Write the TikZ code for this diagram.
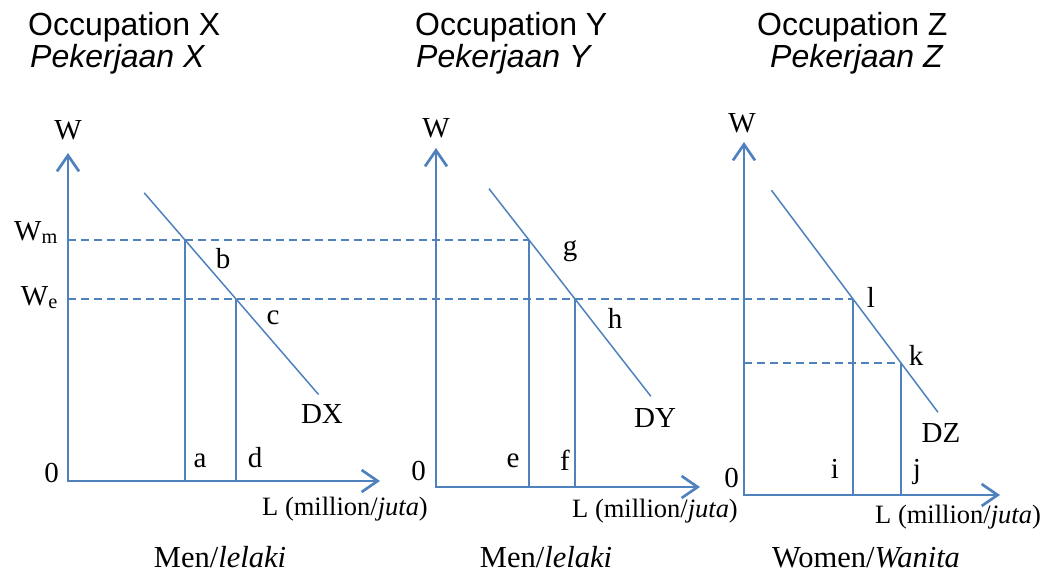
\documentclass[tikz,border=0pt]{standalone}
\usepackage{fontspec}
\setmainfont{Liberation Serif}
\newfontfamily\titlefont{Liberation Sans}
\usetikzlibrary{arrows.meta,calc}
\definecolor{lineblue}{HTML}{4F81BD}
\begin{document}
\begin{tikzpicture}[x=1pt,y=-1pt,
  axisline/.style={draw=lineblue,line width=2.7pt,line join=miter,
    {Straight Barb[length=16pt,width=22pt]}-{Straight Barb[length=16pt,width=22pt]}},
  demand/.style={draw=lineblue,line width=1.5pt},
  guide/.style={draw=lineblue,line width=1.8pt},
  dashline/.style={draw=lineblue,line width=1.5pt,dash pattern=on 8pt off 5pt},
  lbl/.style={inner sep=0pt,anchor=base,font=\fontsize{29}{33}\selectfont},
  llbl/.style={inner sep=0pt,anchor=base west,font=\fontsize{26.5}{30}\selectfont},
  blbl/.style={inner sep=0pt,anchor=base,font=\fontsize{30.5}{34}\selectfont},
  ttl/.style={inner sep=0pt,anchor=base west,font=\titlefont\fontsize{32}{36}\selectfont}]
\useasboundingbox (0,0) rectangle (1046,573);

% titles
\node[ttl] (tX1) at (28,35) {Occupation X};
\node[ttl] (tX2) at (30,67) {\itshape Pekerjaan X};
\node[ttl] (tY1) at (415,35) {Occupation Y};
\node[ttl] (tY2) at (416,67) {\itshape Pekerjaan Y};
\node[ttl] (tZ1) at (757,35) {Occupation Z};
\node[ttl] (tZ2) at (770,67) {\itshape Pekerjaan Z};

% axes
\coordinate (O1) at (68,481);  \coordinate (Y1) at (68,153);  \coordinate (X1) at (380,481);
\coordinate (O2) at (436,487); \coordinate (Y2) at (436,148); \coordinate (X2) at (700,487);
\coordinate (O3) at (744,495); \coordinate (Y3) at (744,142); \coordinate (X3) at (1000,495);
\draw[axisline] (Y1) -- (O1) -- (X1);
\draw[axisline] (Y2) -- (O2) -- (X2);
\draw[axisline] (Y3) -- (O3) -- (X3);

% key points
\coordinate (b) at (185,240); \coordinate (c) at (236,299);
\coordinate (g) at (529,240); \coordinate (h) at (575,299);
\coordinate (l) at (853,299); \coordinate (k) at (901,363);

% dashed wage lines
\draw[dashline] (68,240) coordinate (wm) -- (g);
\draw[dashline] (68,299) coordinate (we) -- (l);
\draw[dashline] (k -| O3) coordinate (wk) -- (k);

% vertical guides
\draw[guide] (b) -- (b |- O1);
\draw[guide] (c) -- (c |- O1);
\draw[guide] (g) -- (g |- O2);
\draw[guide] (h) -- (h |- O2);
\draw[guide] (l) -- (l |- O3);
\draw[guide] (k) -- (k |- O3);

% demand curves
\draw[demand] ($(b)!-0.8!(c)$) -- ($(b)!2.62!(c)$);
\draw[demand] ($(g)!-0.87!(h)$) -- ($(g)!2.65!(h)$);
\draw[demand] ($(l)!-1.7!(k)$) -- ($(l)!1.77!(k)$);

% panel X labels
\node[lbl] (W1) at (68,139) {W};
\node[lbl,anchor=base east] (Wm) at (58,240) {W\textsubscript{m}};
\node[lbl,anchor=base east] (We) at (58,305) {W\textsubscript{e}};
\node[lbl,anchor=base east] (zero1) at (59,482) {0};
\node[lbl] (la) at (200,467) {a};
\node[lbl] (ld) at (255,467) {d};
\node[lbl] (lb) at (223,268) {b};
\node[lbl] (lc) at (273,324) {c};
\node[lbl] (DX) at (322,423) {DX};
\node[llbl] (L1) at (262,515) {L (million/\textit{juta})};
\node[blbl] (men1) at (220,567) {Men/\textit{lelaki}};

% panel Y labels
\node[lbl] (W2) at (436,137) {W};
\node[lbl,anchor=base east] (zero2) at (426,480) {0};
\node[lbl] (le) at (513,467) {e};
\node[lbl] (lf) at (565,470) {f};
\node[lbl] (lg) at (570,255) {g};
\node[lbl] (lh) at (615,328) {h};
\node[lbl] (DY) at (655,427) {DY};
\node[llbl] (L2) at (572,517) {L (million/\textit{juta})};
\node[blbl] (men2) at (546,567) {Men/\textit{lelaki}};

% panel Z labels
\node[lbl] (W3) at (742,132) {W};
\node[lbl,anchor=base east] (zero3) at (739,487) {0};
\node[lbl] (li) at (835,478) {i};
\node[lbl] (lj) at (917,478) {j};
\node[lbl] (ll) at (871,307) {l};
\node[lbl] (lk) at (916,365) {k};
\node[lbl] (DZ) at (941,442) {DZ};
\node[llbl] (L3) at (875,523) {L (million/\textit{juta})};
\node[blbl] (women) at (866,567) {Women/\textit{Wanita}};
\end{tikzpicture}
\end{document}
